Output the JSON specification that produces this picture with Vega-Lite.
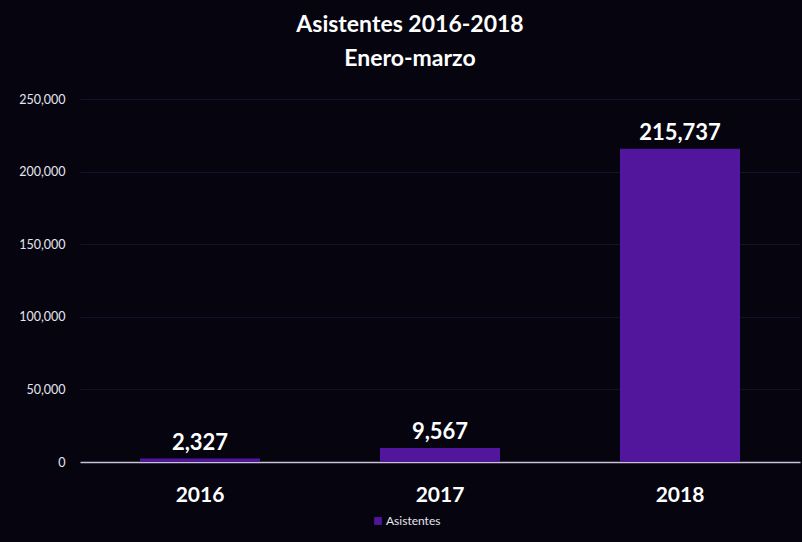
{
  "$schema": "https://vega.github.io/schema/vega-lite/v6.json",
  "autosize": "none",
  "width": 720,
  "height": 363,
  "padding": {"left": 80, "top": 99, "right": 2, "bottom": 80},
  "background": "#05040f",
  "config": {
    "font": "Lato",
    "view": {"stroke": null}
  },
  "title": {
    "text": ["Asistentes 2016-2018", "Enero-marzo"],
    "color": "#ffffff",
    "fontSize": 23,
    "fontWeight": "bold",
    "font": "Lato",
    "lineHeight": 34,
    "anchor": "middle",
    "frame": "group",
    "dx": -30,
    "offset": 22
  },
  "data": {
    "values": [
      {"Year": "2016", "Asistentes": 2327, "Serie": "Asistentes"},
      {"Year": "2017", "Asistentes": 9567, "Serie": "Asistentes"},
      {"Year": "2018", "Asistentes": 215737, "Serie": "Asistentes"}
    ]
  },
  "encoding": {
    "x": {
      "field": "Year",
      "type": "nominal",
      "scale": {"paddingInner": 0.5, "paddingOuter": 0.25},
      "axis": {
        "title": null,
        "labelAngle": 0,
        "labelColor": "#ffffff",
        "labelFontSize": 21,
        "labelFontWeight": "bold",
        "labelPadding": 22,
        "ticks": false,
        "domain": true,
        "domainColor": "#c9c2d6",
        "domainWidth": 1.5
      }
    },
    "y": {
      "field": "Asistentes",
      "type": "quantitative",
      "scale": {"domain": [0, 250000]},
      "axis": {
        "title": null,
        "values": [0, 50000, 100000, 150000, 200000, 250000],
        "format": ",d",
        "labelColor": "#e6e6ee",
        "labelFontSize": 12.5,
        "labelPadding": 15,
        "ticks": false,
        "domain": false,
        "grid": true,
        "gridColor": "#12102a",
        "gridWidth": 1
      }
    }
  },
  "layer": [
    {
      "mark": {"type": "bar", "color": "#52169c"},
      "encoding": {
        "color": {
          "field": "Serie",
          "type": "nominal",
          "scale": {"range": ["#52169c"]},
          "legend": {
            "title": null,
            "orient": "none",
            "legendX": 292,
            "legendY": 416,
            "symbolType": "square",
            "symbolSize": 60,
            "labelColor": "#e6e6ee",
            "labelFontSize": 12,
            "labelOffset": 2
          }
        }
      }
    },
    {
      "mark": {
        "type": "text",
        "baseline": "bottom",
        "dy": -4,
        "fontSize": 22,
        "fontWeight": "bold",
        "color": "#ffffff"
      },
      "encoding": {
        "text": {"field": "Asistentes", "type": "quantitative", "format": ",d"}
      }
    }
  ]
}
